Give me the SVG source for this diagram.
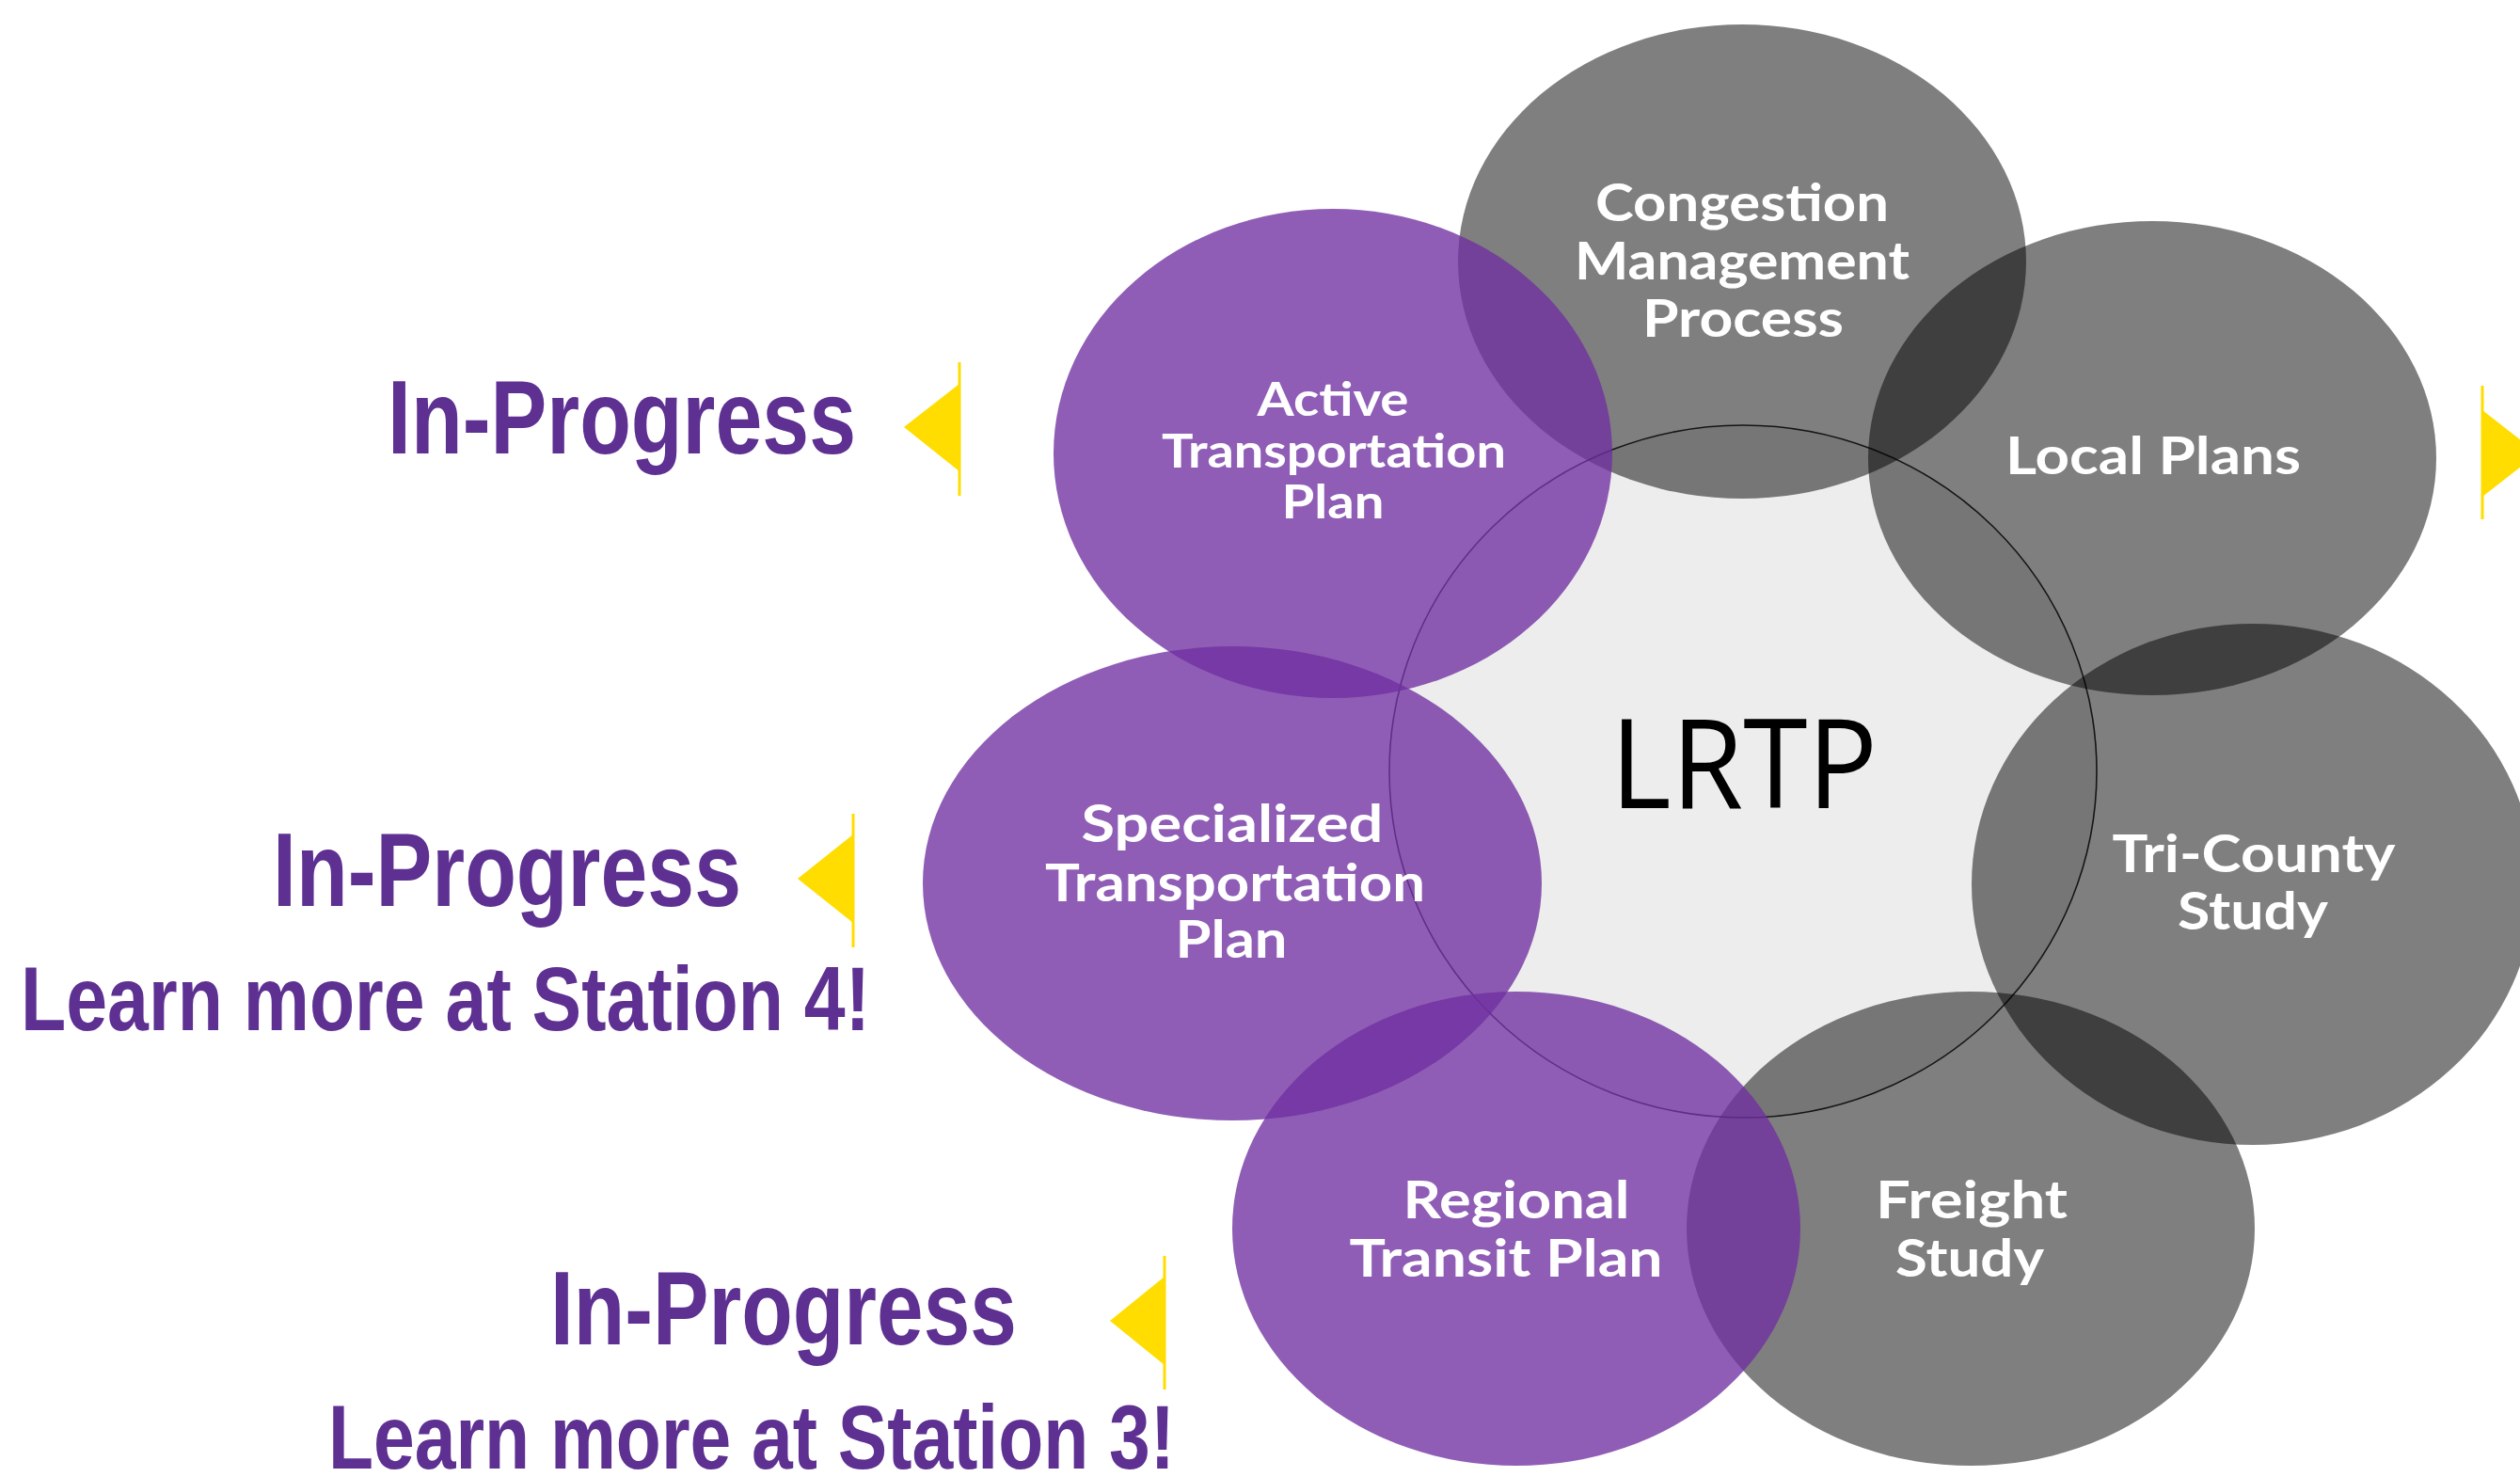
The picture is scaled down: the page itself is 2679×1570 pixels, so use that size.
<svg xmlns="http://www.w3.org/2000/svg" width="2679" height="1570" viewBox="0 0 2679 1570">
<style>
.grey{fill:#000000;fill-opacity:0.5}
.purple{fill:#7030A0;fill-opacity:0.78}
.core{fill:#EDEDED;stroke:#2a2a2a;stroke-width:1.6}
.lbl{font-family:Lato,"Open Sans","DejaVu Sans",sans-serif;font-weight:700;fill:#FFFFFF;text-anchor:middle}
.big{font-size:56px}
.small{font-size:50px}
.core-t{font-family:"Open Sans","DejaVu Sans",sans-serif;font-weight:400;font-size:131px;fill:#000000;text-anchor:middle}
.status{font-family:"Liberation Sans",Arial,sans-serif;font-weight:700;fill:#5E3092}
.ip{font-size:111px}
.lm{font-size:96px}
.flag{fill:#FFDD00}
</style>
<rect x="0" y="0" width="2679" height="1570" fill="#FFFFFF"/>

<g id="lrtp-core">
<ellipse class="core" cx="1853" cy="820" rx="376" ry="368"/>
</g>

<g id="node-congestion">
<ellipse class="grey" cx="1852" cy="278" rx="302" ry="252"/>
</g>
<g id="node-local-plans">
<ellipse class="grey" cx="2288" cy="487" rx="302" ry="252"/>
</g>
<g id="node-tri-county">
<ellipse class="grey" cx="2395" cy="940" rx="299" ry="277"/>
</g>
<g id="node-freight">
<ellipse class="grey" cx="2095" cy="1306" rx="302" ry="252"/>
</g>
<g id="node-regional">
<ellipse class="purple" cx="1612" cy="1306" rx="302" ry="252"/>
</g>
<g id="node-specialized">
<ellipse class="purple" cx="1310" cy="939" rx="329" ry="252"/>
</g>
<g id="node-active">
<ellipse class="purple" cx="1417" cy="482" rx="297" ry="260"/>
</g>

<g id="labels">
<text class="core-t" x="1854" y="859" textLength="284" lengthAdjust="spacingAndGlyphs">LRTP</text>
<text class="lbl big" x="1852" y="235" textLength="312" lengthAdjust="spacingAndGlyphs">Congestion</text>
<text class="lbl big" x="1852" y="297" textLength="356" lengthAdjust="spacingAndGlyphs">Management</text>
<text class="lbl big" x="1853" y="358" textLength="214" lengthAdjust="spacingAndGlyphs">Process</text>
<text class="lbl big" x="2289" y="504" textLength="314" lengthAdjust="spacingAndGlyphs">Local Plans</text>
<text class="lbl big" x="2396" y="927" textLength="301" lengthAdjust="spacingAndGlyphs">Tri-County</text>
<text class="lbl big" x="2395" y="988" textLength="160" lengthAdjust="spacingAndGlyphs">Study</text>
<text class="lbl big" x="2096" y="1295" textLength="204" lengthAdjust="spacingAndGlyphs">Freight</text>
<text class="lbl big" x="2094" y="1357" textLength="158" lengthAdjust="spacingAndGlyphs">Study</text>
<text class="lbl big" x="1612" y="1295" textLength="241" lengthAdjust="spacingAndGlyphs">Regional</text>
<text class="lbl big" x="1601" y="1357" textLength="333" lengthAdjust="spacingAndGlyphs">Transit Plan</text>
<text class="lbl big" x="1310" y="895" textLength="321" lengthAdjust="spacingAndGlyphs">Specialized</text>
<text class="lbl big" x="1313" y="958" textLength="404" lengthAdjust="spacingAndGlyphs">Transportation</text>
<text class="lbl big" x="1309" y="1018" textLength="119" lengthAdjust="spacingAndGlyphs">Plan</text>
<text class="lbl small" x="1417" y="442" textLength="161" lengthAdjust="spacingAndGlyphs">Active</text>
<text class="lbl small" x="1418" y="497" textLength="366" lengthAdjust="spacingAndGlyphs">Transportation</text>
<text class="lbl small" x="1417" y="551" textLength="109" lengthAdjust="spacingAndGlyphs">Plan</text>
</g>

<g id="status-active">
<text class="status ip" x="412" y="482" textLength="498" lengthAdjust="spacingAndGlyphs">In-Progress</text>
<rect class="flag" x="1018.5" y="385" width="3" height="142"/>
<polygon class="flag" points="1020,408 961,454 1020,501"/>
</g>
<g id="status-specialized">
<text class="status ip" x="290" y="963" textLength="498" lengthAdjust="spacingAndGlyphs">In-Progress</text>
<text class="status lm" x="22" y="1095" textLength="903" lengthAdjust="spacingAndGlyphs">Learn more at Station 4!</text>
<rect class="flag" x="905.5" y="865" width="3" height="142"/>
<polygon class="flag" points="907,887 848,934 907,981"/>
</g>
<g id="status-regional">
<text class="status ip" x="585" y="1429" textLength="496" lengthAdjust="spacingAndGlyphs">In-Progress</text>
<text class="status lm" x="349" y="1561" textLength="900" lengthAdjust="spacingAndGlyphs">Learn more at Station 3!</text>
<rect class="flag" x="1236.5" y="1335" width="3" height="142"/>
<polygon class="flag" points="1238,1357 1180,1404 1238,1451"/>
</g>
<g id="status-local">
<rect class="flag" x="2637.5" y="410" width="3" height="142"/>
<polygon class="flag" points="2639,436 2698,482 2639,528"/>
</g>
</svg>
